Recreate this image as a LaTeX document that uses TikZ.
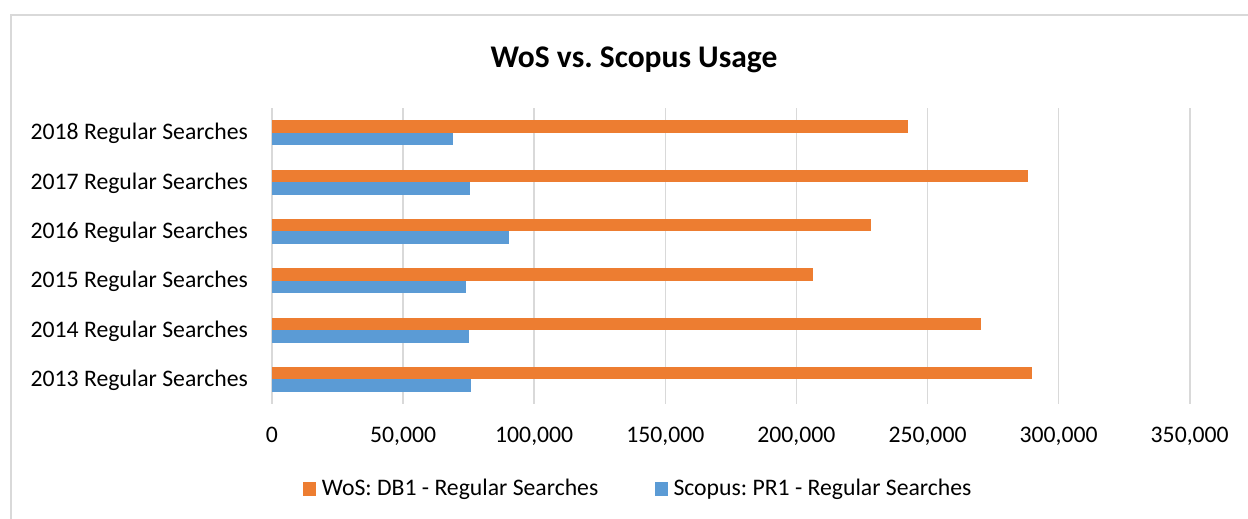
\documentclass[tikz,border=0pt]{standalone}
\usepackage{fontspec}
\setmainfont{Carlito}
\definecolor{wos}{HTML}{ED7D31}
\definecolor{scop}{HTML}{5B9BD5}
\definecolor{gridc}{HTML}{D9D9D9}
\frenchspacing
\begin{document}
\frenchspacing
\begin{tikzpicture}[x=1pt,y=-1pt,
  lbl/.style={font=\fontsize{23.7}{28}\selectfont\frenchspacing, inner sep=0pt},
  gridline/.style={draw=gridc, line width=1.6pt},
  wosbar/.style={fill=wos},
  scopbar/.style={fill=scop},
]
\useasboundingbox (0,0) rectangle (1248,519);
% chart border
\draw[gridc, line width=2pt] (11,540) -- (11,15.5) -- (1260,15.5);
% title
\node[font=\fontsize{31.5}{36}\selectfont\bfseries\frenchspacing, inner sep=0pt, anchor=base] (title) at (634,67.3) {WoS vs. Scopus Usage};
% gridlines
\foreach \i in {0,...,7} \draw[gridline] ({272+131.1*\i},108) -- ({272+131.1*\i},404);
% tick labels
\foreach \i/\t in {0/0,1/{50,000},2/{100,000},3/{150,000},4/{200,000},5/{250,000},6/{300,000},7/{350,000}}
  \node[lbl, anchor=base] (tick\i) at ({272+131.1*\i},442.7) {\t};
% bars and category labels
\foreach \k/\yr/\w/\s in {0/2018/242.4/69.0, 1/2017/288.2/75.7, 2/2016/228.3/90.4, 3/2015/206.5/73.8, 4/2014/270.4/75.0, 5/2013/289.7/76.0} {
  \fill[wosbar] (272,{108+49.33*\k+12.2}) rectangle ({272+2.622*\w},{108+49.33*\k+24.7});
  \fill[scopbar] (272,{108+49.33*\k+24.7}) rectangle ({272+2.622*\s},{108+49.33*\k+37.2});
  \node[lbl, anchor=base east] (cat\yr) at (248,{108+49.33*\k+24.67+7.3}) {\yr{} Regular Searches};
}
% legend
\fill[wosbar] (302.7,482.3) rectangle (316.3,495.7);
\node[lbl, anchor=base west] (legwos) at (321.7,495.7) {WoS: DB1 - Regular Searches};
\fill[scopbar] (654.5,482.3) rectangle (668,495.7);
\node[lbl, anchor=base west] (legscop) at (673.3,495.7) {Scopus: PR1 - Regular Searches};
\end{tikzpicture}
\end{document}
